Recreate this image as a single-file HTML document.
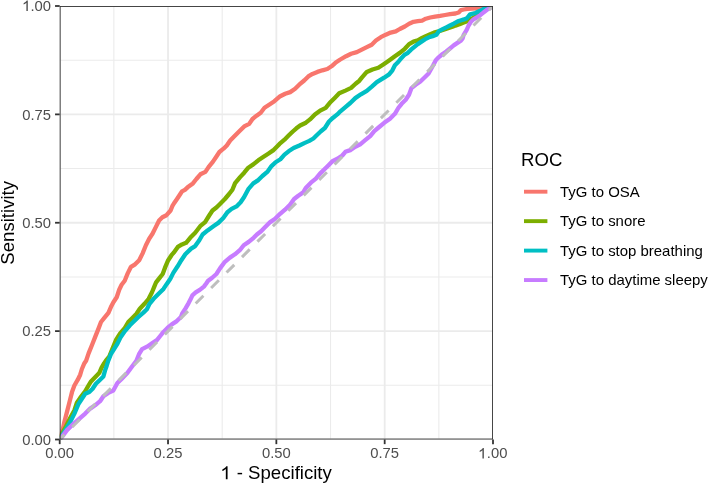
<!DOCTYPE html>
<html><head><meta charset="utf-8"><style>
html,body{margin:0;padding:0;background:#fff;}
svg{display:block;will-change:transform;}
text{font-family:"Liberation Sans",sans-serif;}
.mn{stroke:#EBEBEB;stroke-width:1.1;}
.mj{stroke:#EBEBEB;stroke-width:1.8;}
.tk{stroke:#333;stroke-width:1.8;}
.tl{font-size:14.8px;fill:#4D4D4D;}
.ll{font-size:14.95px;fill:#000;}
.curves polyline{fill:none;stroke-width:4.3;stroke-linejoin:round;stroke-linecap:butt;}
</style></head><body>
<svg width="708" height="484" viewBox="0 0 708 484">
<defs><clipPath id="pc"><rect x="59.7" y="6.0" width="433.30" height="433.50"/></clipPath></defs>
<rect x="0" y="0" width="708" height="484" fill="#fff"/>
<g clip-path="url(#pc)">
<line x1="113.86" y1="6.0" x2="113.86" y2="439.5" class="mn"/>
<line x1="59.7" y1="385.31" x2="493.0" y2="385.31" class="mn"/>
<line x1="222.19" y1="6.0" x2="222.19" y2="439.5" class="mn"/>
<line x1="59.7" y1="276.94" x2="493.0" y2="276.94" class="mn"/>
<line x1="330.51" y1="6.0" x2="330.51" y2="439.5" class="mn"/>
<line x1="59.7" y1="168.56" x2="493.0" y2="168.56" class="mn"/>
<line x1="438.84" y1="6.0" x2="438.84" y2="439.5" class="mn"/>
<line x1="59.7" y1="60.19" x2="493.0" y2="60.19" class="mn"/>
<line x1="59.70" y1="6.0" x2="59.70" y2="439.5" class="mj"/>
<line x1="59.7" y1="439.50" x2="493.0" y2="439.50" class="mj"/>
<line x1="168.03" y1="6.0" x2="168.03" y2="439.5" class="mj"/>
<line x1="59.7" y1="331.12" x2="493.0" y2="331.12" class="mj"/>
<line x1="276.35" y1="6.0" x2="276.35" y2="439.5" class="mj"/>
<line x1="59.7" y1="222.75" x2="493.0" y2="222.75" class="mj"/>
<line x1="384.68" y1="6.0" x2="384.68" y2="439.5" class="mj"/>
<line x1="59.7" y1="114.38" x2="493.0" y2="114.38" class="mj"/>
<line x1="493.00" y1="6.0" x2="493.00" y2="439.5" class="mj"/>
<line x1="59.7" y1="6.00" x2="493.0" y2="6.00" class="mj"/>
<g class="curves">
<polyline points="59.7,439.5 62.7,429.7 64.4,421.7 67.0,411.9 69.5,402.0 72.0,392.1 74.4,385.5 77.8,379.7 80.2,374.7 81.9,369.0 84.4,363.2 86.1,360.7 88.6,353.4 91.9,345.2 95.2,336.9 98.5,328.6 101.0,322.0 104.3,317.9 108.4,312.9 110.9,307.1 113.4,302.2 116.7,297.2 119.2,289.8 121.6,284.8 124.7,280.7 127.7,273.4 131.0,266.8 135.1,264.3 139.2,260.2 142.5,253.6 145.9,245.3 149.2,238.7 152.5,233.8 155.8,227.1 159.1,220.5 162.4,217.2 166.5,215.2 170.6,210.5 172.3,206.2 173.9,203.5 177.0,199.0 180.3,194.0 182.0,191.3 184.9,189.8 187.6,187.3 190.4,185.2 192.9,183.4 196.4,179.0 200.4,174.3 205.4,171.9 208.7,166.9 212.8,161.9 216.1,157.0 219.4,152.0 223.5,148.7 226.8,145.4 230.2,140.5 235.1,135.5 240.1,130.5 244.2,126.4 249.2,123.9 252.5,119.0 256.6,115.7 260.7,112.7 264.5,107.8 269.5,104.5 274.4,101.2 280.2,96.2 285.2,93.8 290.2,92.1 295.1,88.8 299.2,84.7 304.2,80.5 308.3,76.4 312.5,73.9 317.4,71.9 322.4,70.3 327.3,69.0 331.5,66.3 335.4,62.8 340.3,59.5 346.1,56.2 351.1,53.8 356.8,52.1 361.8,49.6 366.8,47.1 371.7,44.7 375.9,40.5 380.8,37.2 385.8,34.7 390.7,32.6 395.7,31.4 399.8,29.0 404.8,26.5 409.1,23.7 413.5,21.8 417.8,21.2 422.1,20.6 425.8,18.7 430.2,17.5 435.1,16.6 440.1,15.9 445.1,15.0 450.0,14.1 455.4,13.5 458.7,12.5 461.0,10.1 463.8,9.5 467.6,8.9 471.7,8.6 475.8,8.3 479.9,7.5 484.0,7.1 488.2,6.9 493.0,6.0" stroke="#F8766D"/>
<polyline points="59.7,439.5 62.7,432.3 66.2,426.0 70.3,417.7 74.4,410.3 76.9,402.8 80.2,397.9 85.2,391.3 88.5,385.5 91.0,381.4 95.1,377.2 99.2,373.1 101.7,367.3 104.2,363.2 105.9,360.7 109.2,356.7 112.5,348.5 115.9,340.2 120.0,333.6 124.9,327.8 128.3,322.0 132.4,317.9 136.5,313.8 139.8,308.8 144.5,303.8 148.7,298.8 152.0,292.2 154.4,286.4 156.1,282.3 159.4,278.1 162.7,274.0 165.0,267.7 168.2,260.2 171.5,255.2 173.7,252.7 177.8,246.9 182.0,244.4 186.1,242.8 190.2,237.8 195.2,232.8 200.2,226.2 205.1,222.1 209.2,215.5 212.5,210.5 216.7,207.2 220.0,203.9 224.9,199.0 229.1,194.0 232.4,189.7 235.1,183.1 240.1,177.1 244.2,172.7 248.3,167.7 253.3,164.4 258.3,160.3 263.2,157.0 268.2,153.7 273.1,150.4 277.3,146.2 279.5,143.9 284.5,139.7 288.6,135.6 292.8,131.5 296.4,128.3 300.1,125.5 305.9,122.7 310.0,119.4 314.9,114.4 320.7,110.3 325.7,107.8 329.8,102.8 334.7,97.9 339.2,93.3 345.4,90.6 351.1,87.9 355.6,83.7 359.4,80.7 361.8,77.7 366.8,71.9 372.5,69.5 378.3,67.8 383.3,64.5 389.1,60.4 394.9,56.2 399.8,52.9 404.8,48.8 409.1,44.1 413.5,41.6 417.8,40.4 422.1,37.9 425.8,36.1 430.2,34.2 433.9,32.7 437.6,31.7 441.3,30.5 445.1,29.2 448.8,28.0 452.5,26.8 455.4,25.6 459.5,24.3 463.7,22.6 467.8,20.9 471.9,18.5 476.1,16.0 480.2,13.5 484.2,10.4 488.2,8.1 493.0,6.0" stroke="#7CAE00"/>
<polyline points="59.7,439.5 65.4,430.0 70.3,421.9 74.4,413.6 78.6,403.7 81.9,398.7 85.2,393.8 89.3,392.1 92.6,388.8 95.9,383.8 100.1,379.7 103.4,376.4 105.0,370.6 106.7,365.7 108.3,360.7 110.9,354.2 113.4,350.1 117.5,343.5 120.8,336.9 124.9,331.1 129.9,325.3 134.0,321.2 138.2,317.1 143.1,312.9 146.9,309.2 149.5,303.8 153.6,298.8 158.6,293.8 163.5,288.9 166.8,283.9 170.2,279.0 173.3,272.9 177.3,266.8 180.3,261.8 185.3,254.3 191.1,248.6 195.2,246.1 199.3,240.3 202.6,234.5 207.6,230.4 213.4,226.2 218.3,222.9 223.3,218.0 227.4,212.2 231.6,208.9 236.5,206.4 240.6,202.3 244.0,197.3 248.3,189.2 253.3,183.4 258.3,180.1 262.4,176.0 267.3,171.9 271.5,166.1 275.6,162.2 280.4,159.2 284.5,154.6 288.6,151.3 293.6,148.0 299.4,145.5 304.3,143.1 309.3,140.9 313.4,138.5 316.7,135.2 320.9,131.2 324.9,128.0 329.0,121.5 333.1,117.7 337.3,114.4 340.4,111.3 345.4,107.1 350.3,103.0 355.3,98.1 360.9,94.3 366.8,90.9 371.8,86.7 376.8,82.2 384.1,77.7 389.1,74.4 392.4,70.3 394.9,65.3 398.2,62.0 401.5,57.9 404.8,54.6 407.9,52.8 411.0,49.7 414.7,46.6 417.8,44.1 421.5,41.6 425.2,39.2 428.9,37.3 432.7,36.1 436.4,34.8 438.9,31.1 442.6,29.2 446.3,27.4 450.0,25.5 453.7,23.7 457.8,21.4 461.2,20.3 464.0,19.4 466.9,18.3 468.9,15.7 470.2,14.3 475.4,13.0 480.1,10.8 484.1,8.6 488.2,7.6 493.0,6.0" stroke="#00BFC4"/>
<polyline points="59.7,439.5 61.8,437.1 67.0,430.1 72.0,425.2 78.6,419.4 85.2,413.6 90.2,408.6 95.1,405.3 100.1,401.2 103.4,396.2 108.3,392.9 113.3,390.5 117.4,383.0 121.6,378.9 127.3,373.1 131.5,367.3 136.4,360.7 139.0,354.2 142.1,349.2 147.0,346.7 152.0,343.4 156.9,340.1 160.2,336.0 163.5,331.9 167.7,327.7 171.8,324.4 176.8,321.1 180.9,317.0 182.4,313.1 185.7,308.1 188.6,303.1 190.3,299.8 192.4,295.3 195.7,292.4 199.8,289.9 203.9,286.6 206.4,283.3 208.1,280.8 211.9,278.0 216.4,274.0 220.0,268.4 224.9,261.8 229.9,257.6 234.9,254.3 239.8,250.2 243.7,245.2 248.7,241.9 253.6,237.8 256.9,234.5 261.1,231.2 265.2,227.1 270.2,222.1 275.1,218.8 280.1,213.8 285.0,209.7 290.0,204.7 294.1,199.0 298.3,195.7 303.2,192.4 306.0,187.7 310.9,182.7 315.9,178.6 320.0,173.6 324.2,169.5 328.3,165.4 332.4,161.2 337.4,158.8 342.3,155.5 345.4,151.8 350.3,150.1 355.3,146.8 360.2,144.3 365.2,140.2 370.2,136.1 374.3,131.1 379.2,127.0 384.2,122.8 390.0,118.7 394.9,113.8 398.3,108.0 401.6,103.8 405.7,99.7 409.0,94.7 411.5,88.1 415.6,84.8 420.4,81.5 424.0,78.0 428.6,73.4 433.2,65.2 435.8,60.2 438.9,57.1 442.6,54.0 446.3,51.5 450.0,48.5 453.7,45.4 457.4,42.9 461.2,40.4 462.7,38.2 463.6,35.0 466.7,29.8 468.6,25.5 471.0,21.7 473.5,19.3 477.7,16.8 480.2,15.2 482.7,13.1 485.1,11.2 487.4,9.5 489.8,8.1 493.0,6.0" stroke="#C77CFF"/>
</g>
<line x1="59.7" y1="439.5" x2="493.0" y2="6.0" stroke="#BEBEBE" stroke-width="3.0" stroke-dasharray="10.915 10.915" stroke-dashoffset="4.1"/>
<rect x="59.7" y="6.0" width="433.30" height="433.50" fill="none" stroke="#333" stroke-width="1.8"/>
</g>
<line x1="59.70" y1="439.5" x2="59.70" y2="444.15" class="tk"/>
<line x1="55.050000000000004" y1="439.50" x2="59.7" y2="439.50" class="tk"/>
<text x="59.70" y="458.2" text-anchor="middle" class="tl">0.00</text>
<text x="51.0" y="444.70" text-anchor="end" class="tl">0.00</text>
<line x1="168.03" y1="439.5" x2="168.03" y2="444.15" class="tk"/>
<line x1="55.050000000000004" y1="331.12" x2="59.7" y2="331.12" class="tk"/>
<text x="168.03" y="458.2" text-anchor="middle" class="tl">0.25</text>
<text x="51.0" y="336.32" text-anchor="end" class="tl">0.25</text>
<line x1="276.35" y1="439.5" x2="276.35" y2="444.15" class="tk"/>
<line x1="55.050000000000004" y1="222.75" x2="59.7" y2="222.75" class="tk"/>
<text x="276.35" y="458.2" text-anchor="middle" class="tl">0.50</text>
<text x="51.0" y="227.95" text-anchor="end" class="tl">0.50</text>
<line x1="384.68" y1="439.5" x2="384.68" y2="444.15" class="tk"/>
<line x1="55.050000000000004" y1="114.38" x2="59.7" y2="114.38" class="tk"/>
<text x="384.68" y="458.2" text-anchor="middle" class="tl">0.75</text>
<text x="51.0" y="119.58" text-anchor="end" class="tl">0.75</text>
<line x1="493.00" y1="439.5" x2="493.00" y2="444.15" class="tk"/>
<line x1="55.050000000000004" y1="6.00" x2="59.7" y2="6.00" class="tk"/>
<text x="486.83" y="458.2" class="tl">.00</text>
<path d="M 483.85 458.45 L 483.85 448.09 L 482.85 448.09 C 482.26 449.13 481.08 450.06 479.67 450.71 L 479.67 452.01 C 480.78 451.57 481.82 450.93 482.45 450.34 L 482.45 458.45 Z" fill="#4D4D4D"/>
<text x="51.0" y="11.20" text-anchor="end" class="tl">.00</text>
<path d="M 27.80 10.95 L 27.80 0.59 L 26.80 0.59 C 26.21 1.63 25.03 2.56 23.62 3.21 L 23.62 4.51 C 24.73 4.07 25.77 3.43 26.40 2.84 L 26.40 10.95 Z" fill="#4D4D4D"/>
<text x="236.77" y="479.3" font-size="18.6" fill="#000">- Specificity</text>
<path d="M 227.57 479.20 L 227.57 466.18 L 226.33 466.18 C 225.58 467.48 224.10 468.65 222.33 469.47 L 222.33 471.11 C 223.72 470.55 225.03 469.75 225.83 469.01 L 225.83 479.20 Z" fill="#000"/>
<text transform="translate(14.3,222.8) rotate(-90)" text-anchor="middle" font-size="18.6" fill="#000">Sensitivity</text>
<text x="521" y="166.1" font-size="18.6" fill="#000">ROC</text>
<line x1="524" y1="191.70" x2="547.4" y2="191.70" stroke="#F8766D" stroke-width="3.9"/>
<text x="560" y="196.80" class="ll">TyG to OSA</text>
<line x1="524" y1="221.15" x2="547.4" y2="221.15" stroke="#7CAE00" stroke-width="3.9"/>
<text x="560" y="226.25" class="ll">TyG to snore</text>
<line x1="524" y1="250.60" x2="547.4" y2="250.60" stroke="#00BFC4" stroke-width="3.9"/>
<text x="560" y="255.70" class="ll">TyG to stop breathing</text>
<line x1="524" y1="280.05" x2="547.4" y2="280.05" stroke="#C77CFF" stroke-width="3.9"/>
<text x="560" y="285.15" class="ll">TyG to daytime sleepy</text>
</svg>
</body></html>
